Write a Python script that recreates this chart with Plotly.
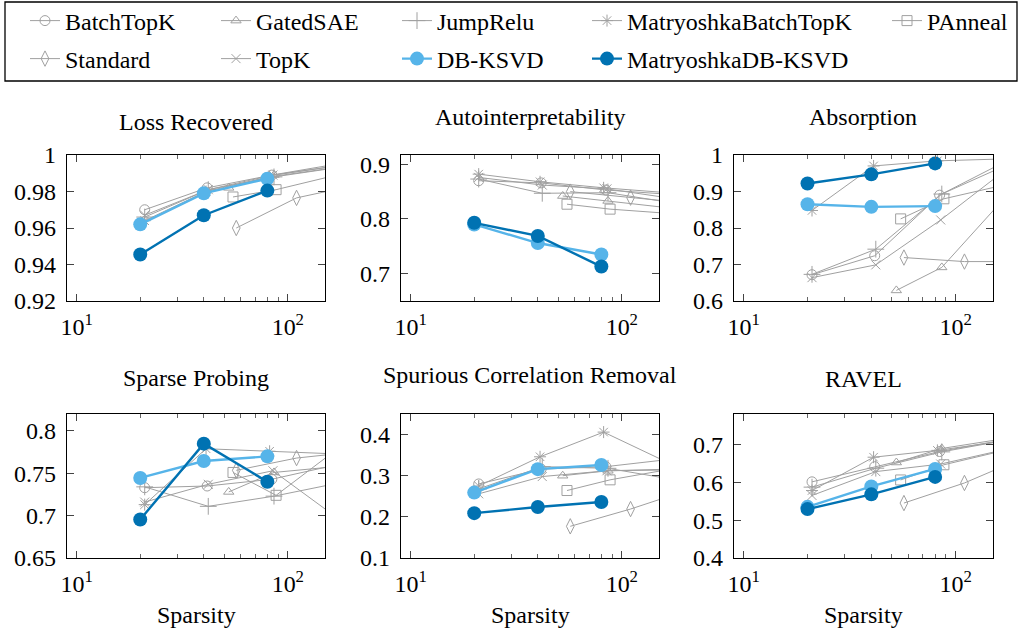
import math
import plotly.graph_objects as go

# ---------------- data ----------------
methods = ["BatchTopK", "GatedSAE", "JumpRelu", "MatryoshkaBatchTopK", "PAnneal",
           "Standard", "TopK", "DB-KSVD", "MatryoshkaDB-KSVD"]

sparsity = {
    "BatchTopK": [21, 41.5, 84, 170],
    "GatedSAE": [52.5, 86, 170],
    "JumpRelu": [21, 42, 86, 170],
    "MatryoshkaBatchTopK": [21, 41, 82, 165],
    "PAnneal": [55, 88, 170],
    "Standard": [57, 110, 220],
    "TopK": [21, 42, 85, 170],
    "DB-KSVD": [20, 40, 80],
    "MatryoshkaDB-KSVD": [20, 40, 80],
}

loss_recovered = {
    "BatchTopK": [0.970, 0.982, 0.989, 0.995],
    "GatedSAE": [0.982, 0.989, 0.994],
    "JumpRelu": [0.966, 0.981, 0.988, 0.993],
    "MatryoshkaBatchTopK": [0.964, 0.980, 0.988, 0.993],
    "PAnneal": [0.977, 0.981, 0.989],
    "Standard": [0.960, 0.9765, 0.984],
    "TopK": [0.967, 0.981, 0.989, 0.994],
    "DB-KSVD": [0.962, 0.979, 0.987],
    "MatryoshkaDB-KSVD": [0.9455, 0.967, 0.9805],
}

autointerp = {
    "BatchTopK": [0.870, 0.866, 0.853, 0.845],
    "GatedSAE": [0.842, 0.833, 0.820],
    "JumpRelu": [0.873, 0.847, 0.848, 0.830],
    "MatryoshkaBatchTopK": [0.882, 0.868, 0.857, 0.848],
    "PAnneal": [0.827, 0.818, 0.810],
    "Standard": [0.850, 0.839, 0.828],
    "TopK": [0.876, 0.862, 0.855, 0.838],
    "DB-KSVD": [0.790, 0.756, 0.735],
    "MatryoshkaDB-KSVD": [0.793, 0.769, 0.713],
}

absorption = {
    "BatchTopK": [0.672, 0.724, 0.890, 0.981],
    "GatedSAE": [0.629, 0.692, 0.882],
    "JumpRelu": [0.673, 0.742, 0.893, 0.970],
    "MatryoshkaBatchTopK": [0.848, 0.970, 0.984, 0.989],
    "PAnneal": [0.825, 0.880, 0.918],
    "Standard": [0.719, 0.708, 0.708],
    "TopK": [0.664, 0.699, 0.822, 0.957],
    "DB-KSVD": [0.865, 0.858, 0.860],
    "MatryoshkaDB-KSVD": [0.922, 0.947, 0.977],
}

sparse_probing = {
    "BatchTopK": [0.733, 0.735, 0.743, 0.760],
    "GatedSAE": [0.728, 0.751, 0.758],
    "JumpRelu": [0.734, 0.711, 0.723, 0.738],
    "MatryoshkaBatchTopK": [0.713, 0.779, 0.776, 0.773],
    "PAnneal": [0.751, 0.724, 0.778],
    "Standard": [0.7535, 0.768, 0.776],
    "TopK": [0.716, 0.737, 0.753, 0.698],
    "DB-KSVD": [0.7445, 0.7645, 0.770],
    "MatryoshkaDB-KSVD": [0.6955, 0.785, 0.740],
}

spurious = {
    "BatchTopK": [0.280, 0.316, 0.322, 0.340],
    "GatedSAE": [0.300, 0.312, 0.316],
    "JumpRelu": [0.268, 0.322, 0.318, 0.292],
    "MatryoshkaBatchTopK": [0.275, 0.346, 0.406, 0.332],
    "PAnneal": [0.264, 0.290, 0.316],
    "Standard": [0.177, 0.219, 0.270],
    "TopK": [0.256, 0.298, 0.312, 0.314],
    "DB-KSVD": [0.259, 0.316, 0.326],
    "MatryoshkaDB-KSVD": [0.209, 0.224, 0.236],
}

ravel = {
    "BatchTopK": [0.601, 0.641, 0.681, 0.712],
    "GatedSAE": [0.652, 0.689, 0.715],
    "JumpRelu": [0.587, 0.637, 0.680, 0.710],
    "MatryoshkaBatchTopK": [0.578, 0.666, 0.684, 0.708],
    "PAnneal": [0.606, 0.646, 0.684],
    "Standard": [0.545, 0.598, 0.670],
    "TopK": [0.565, 0.628, 0.648, 0.686],
    "DB-KSVD": [0.535, 0.589, 0.635],
    "MatryoshkaDB-KSVD": [0.529, 0.568, 0.614],
}

panel_titles = ["Loss Recovered", "Autointerpretability", "Absorption",
                "Sparse Probing", "Spurious Correlation Removal", "RAVEL"]
panel_data = [loss_recovered, autointerp, absorption, sparse_probing, spurious, ravel]
y_ranges = [(0.92, 1.0), (0.65, 0.917), (0.6, 1.0), (0.65, 0.82), (0.1, 0.45), (0.4, 0.78)]
y_ticks = [
    [0.92, 0.94, 0.96, 0.98, 1.0],
    [0.7, 0.8, 0.9],
    [0.6, 0.7, 0.8, 0.9, 1.0],
    [0.65, 0.7, 0.75, 0.8],
    [0.1, 0.2, 0.3, 0.4],
    [0.4, 0.5, 0.6, 0.7],
]
y_ticktext = [
    ["0.92", "0.94", "0.96", "0.98", "1"],
    ["0.7", "0.8", "0.9"],
    ["0.6", "0.7", "0.8", "0.9", "1"],
    ["0.65", "0.7", "0.75", "0.8"],
    ["0.1", "0.2", "0.3", "0.4"],
    ["0.4", "0.5", "0.6", "0.7"],
]
x_major = [10, 100]
x_major_text = ["10<sup>1</sup>", "10<sup>2</sup>"]
x_minor = [20, 30, 40, 50, 60, 70, 80, 90]
x_limits = (9, 150)
x_label = "Sparsity"

# ---------------- style ----------------
W, H = 1023, 634
FONT = "Liberation Serif, Times New Roman, serif"
FS = 24
GRAY = "rgb(160,160,160)"
LIGHT = "#56B4E9"
DARK = "#0072B2"
symbols = {
    "BatchTopK": "circle-open",
    "GatedSAE": "triangle-up-open",
    "JumpRelu": "cross-thin-open",
    "MatryoshkaBatchTopK": "asterisk-open",
    "PAnneal": "square-open",
    "Standard": "diamond-tall-open",
    "TopK": "x-thin-open",
}
gray_size = {
    "BatchTopK": 10, "GatedSAE": 9, "JumpRelu": 12, "MatryoshkaBatchTopK": 10,
    "PAnneal": 10, "Standard": 11, "TopK": 9,
}

col_px = [(67, 325), (401, 659), (734, 993)]
row_px = [(155, 301), (414, 558)]

# legend placement (text-left x, centre y) in pixels
legend_pos = {
    "BatchTopK": (66, 22), "GatedSAE": (257, 22), "JumpRelu": (438, 22),
    "MatryoshkaBatchTopK": (628, 22), "PAnneal": (928, 22),
    "Standard": (66, 60), "TopK": (257, 60), "DB-KSVD": (438, 60),
    "MatryoshkaDB-KSVD": (628, 60),
}
legend_keys = {m: ("legend" if i == 0 else f"legend{i+1}") for i, m in enumerate(methods)}

fig = go.Figure()
layout = dict(
    width=W, height=H, margin=dict(l=0, r=0, t=0, b=0, autoexpand=False),
    paper_bgcolor="white", plot_bgcolor="white",
    font=dict(family=FONT, size=FS, color="black"),
    annotations=[], shapes=[],
)

for i in range(6):
    r, c = divmod(i, 3)
    x0, x1 = col_px[c]
    y0, y1 = row_px[r]
    xa = "x" if i == 0 else f"x{i+1}"
    ya = "y" if i == 0 else f"y{i+1}"
    xkey = "xaxis" if i == 0 else f"xaxis{i+1}"
    ykey = "yaxis" if i == 0 else f"yaxis{i+1}"
    layout[xkey] = dict(
        domain=[x0 / W, x1 / W], anchor=ya, type="log",
        range=[math.log10(x_limits[0]), math.log10(x_limits[1])],
        tickmode="array", tickvals=x_major, ticktext=x_major_text,
        ticks="inside", ticklen=7, tickwidth=1, tickcolor="#444",
        mirror="allticks", showline=True, linecolor="black", linewidth=1.3,
        showgrid=False, zeroline=False, automargin=False, ticklabelstandoff=4,
        tickfont=dict(family=FONT, size=24, color="black"),
        minor=dict(tickmode="array", tickvals=x_minor, ticks="inside",
                   ticklen=4, tickwidth=1, tickcolor="#666", showgrid=False),
    )
    layout[ykey] = dict(
        domain=[1 - y1 / H, 1 - y0 / H], anchor=xa,
        range=list(y_ranges[i]),
        tickmode="array", tickvals=y_ticks[i], ticktext=y_ticktext[i],
        ticks="inside", ticklen=7, tickwidth=1, tickcolor="#444",
        mirror="allticks", showline=True, linecolor="black", linewidth=1.3,
        showgrid=False, zeroline=False, automargin=False, ticklabelstandoff=5,
        tickfont=dict(family=FONT, size=24, color="black"),
    )
    d = panel_data[i]
    for m in methods:
        if m == "DB-KSVD":
            line = dict(color=LIGHT, width=2.4)
            marker = dict(symbol="circle", size=14, color=LIGHT)
        elif m == "MatryoshkaDB-KSVD":
            line = dict(color=DARK, width=2.4)
            marker = dict(symbol="circle", size=14, color=DARK)
        else:
            line = dict(color=GRAY, width=1)
            marker = dict(symbol=symbols[m], size=gray_size[m], color=GRAY,
                          line=dict(width=1, color=GRAY))
        fig.add_trace(go.Scatter(
            x=sparsity[m], y=d[m], mode="lines+markers", name=m,
            line=line, marker=marker, xaxis=xa, yaxis=ya,
            showlegend=(i == 0), legend=legend_keys[m],
        ))

# titles
title_pos = [(196, 122), (530, 117), (863, 117), (196, 378), (530, 375), (863, 379)]
for t, (px, py) in zip(panel_titles, title_pos):
    layout["annotations"].append(dict(
        text=t, x=px / W, y=1 - py / H, xref="paper", yref="paper",
        xanchor="center", yanchor="middle", showarrow=False,
        font=dict(family=FONT, size=FS, color="black")))
for c in range(3):
    px = (col_px[c][0] + col_px[c][1]) / 2
    layout["annotations"].append(dict(
        text=x_label, x=px / W, y=1 - 615 / H, xref="paper", yref="paper",
        xanchor="center", yanchor="middle", showarrow=False,
        font=dict(family=FONT, size=FS, color="black")))

# legends
for m in methods:
    tx, ty = legend_pos[m]
    layout[legend_keys[m]] = dict(
        x=(tx - 41) / W, y=1 - (ty - 1) / H, xanchor="left", yanchor="middle",
        xref="paper", yref="paper", bgcolor="rgba(0,0,0,0)", borderwidth=0,
        font=dict(family=FONT, size=FS, color="black"),
    )
layout["shapes"].append(dict(
    type="rect", xref="paper", yref="paper",
    x0=5 / W, x1=1017 / W, y0=1 - 81 / H, y1=1 - 2 / H,
    line=dict(color="black", width=1.3), fillcolor="rgba(0,0,0,0)"))

fig.update_layout(**layout)
fig.write_html("out.html", config={"displayModeBar": False},
               post_script="document.body.style.margin='0px';")
